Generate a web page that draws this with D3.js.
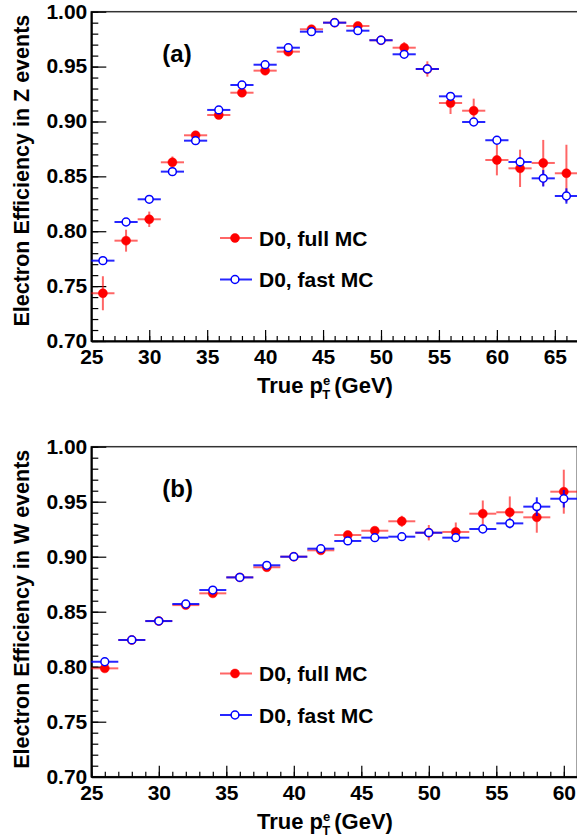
<!DOCTYPE html>
<html>
<head>
<meta charset="utf-8">
<script src="https://cdn.jsdelivr.net/npm/d3@7"></script>
<style>
  body { margin: 0; background: #fff; }
  text { font-family: "Liberation Sans", Arial, sans-serif; font-weight: bold; }
</style>
</head>
<body>
<script>
// Z events (a)
const zPt = [26, 28, 30, 32, 34, 36, 38, 40, 42, 44, 46, 48, 50, 52, 54, 56, 58, 60, 62, 64, 66];
const zFull = [0.7435, 0.7914, 0.8109, 0.8628, 0.8874, 0.9059, 0.9262, 0.9463, 0.9636, 0.984, 0.990,
               0.987, 0.974, 0.9672, 0.9478, 0.9168, 0.9098, 0.8649, 0.8573, 0.8622, 0.8528];
const zFullErr = [0.0155, 0.010, 0.007, 0.0053, 0.003, 0.002, 0.002, 0.002, 0.002, 0.002, 0.002,
                  0.003, 0.003, 0.005, 0.007, 0.010, 0.011, 0.014, 0.017, 0.021, 0.026];
const zFast = [0.7732, 0.8084, 0.8291, 0.8543, 0.8825, 0.9105, 0.9332, 0.9517, 0.9672, 0.9818, 0.990,
               0.9827, 0.974, 0.9612, 0.9478, 0.9229, 0.8995, 0.8829, 0.8631, 0.8482, 0.8321];
const zFastErr = [0.002, 0.002, 0.002, 0.002, 0.002, 0.002, 0.002, 0.002, 0.002, 0.002, 0.002,
                  0.002, 0.002, 0.002, 0.002, 0.003, 0.003, 0.003, 0.0045, 0.0075, 0.007];

// W events (b)
const wPt = [26, 28, 30, 32, 34, 36, 38, 40, 42, 44, 46, 48, 50, 52, 54, 56, 58, 60];
const wFull = [0.7985, 0.8243, 0.8415, 0.856, 0.8667, 0.8812, 0.8904, 0.900, 0.9058, 0.9197, 0.9236,
               0.9322, 0.9218, 0.9225, 0.9391, 0.9404, 0.9358, 0.9591];
const wFullErr = [0.002, 0.002, 0.002, 0.002, 0.002, 0.002, 0.002, 0.002, 0.002, 0.002, 0.003,
                  0.005, 0.007, 0.0086, 0.012, 0.0144, 0.014, 0.020];
const wFast = [0.8045, 0.8243, 0.8415, 0.857, 0.8697, 0.8812, 0.8922, 0.900, 0.9073, 0.9143, 0.9173,
               0.9182, 0.9218, 0.9173, 0.9252, 0.9303, 0.9455, 0.9527];
const wFastErr = [0.002, 0.002, 0.002, 0.002, 0.002, 0.002, 0.002, 0.002, 0.002, 0.002, 0.002,
                  0.002, 0.002, 0.002, 0.003, 0.0045, 0.0085, 0.008];

const yTicks = [0.70, 0.75, 0.80, 0.85, 0.90, 0.95, 1.00];
const legendLabels = ["D0, full MC", "D0, fast MC"];

const width = 577;
const height = 837;
const redBar = "rgba(255,0,0,0.6)";
const blueBar = "rgba(0,0,255,0.85)";

let svg = d3.select("body")
    .append("svg")
    .attr("width", width)
    .attr("height", height);

// one marker, filled red or open blue
function marker(sel, filled) {
    return sel.attr("r", filled ? 4.5 : 3.9)
        .attr("fill", filled ? "#f00" : "#fff")
        .attr("stroke", filled ? "#f00" : "#00f")
        .attr("stroke-width", filled ? 0.5 : 1.5);
}

function drawPanel(opt) {
    let scaleX = d3.scaleLinear().domain(opt.xDomain).range([opt.left, opt.right]);
    let scaleY = d3.scaleLinear().domain([0.70, 1.00]).range([opt.bottom, opt.top]);
    let g = svg.append("g");

    // frame
    g.append("rect")
        .attr("x", opt.left).attr("y", opt.top)
        .attr("width", opt.right - opt.left).attr("height", opt.bottom - opt.top)
        .attr("fill", "none").attr("stroke", "#333").attr("stroke-width", 1.5);

    // minor ticks
    g.append("g")
        .attr("transform", `translate(0, ${opt.bottom})`)
        .call(d3.axisBottom(scaleX).tickValues(d3.range(opt.xDomain[0], opt.xDomain[1] + 0.5, 1))
            .tickSizeInner(-5).tickSizeOuter(0).tickFormat(""))
        .call(a => a.select(".domain").remove());
    g.append("g")
        .attr("transform", `translate(${opt.left}, 0)`)
        .call(d3.axisLeft(scaleY).tickValues(d3.range(0.70, 1.001, 0.01))
            .tickSizeInner(-7).tickSizeOuter(0).tickFormat(""))
        .call(a => a.select(".domain").remove());

    // major ticks + labels
    let axX = g.append("g")
        .attr("transform", `translate(0, ${opt.bottom})`)
        .call(d3.axisBottom(scaleX).tickValues(opt.xTicks)
            .tickSizeInner(-11).tickSizeOuter(0).tickPadding(8).tickFormat(d3.format("d")));
    let axY = g.append("g")
        .attr("transform", `translate(${opt.left}, 0)`)
        .call(d3.axisLeft(scaleY).tickValues(yTicks)
            .tickSizeInner(-15).tickSizeOuter(0).tickPadding(4).tickFormat(d3.format(".2f")));
    [axX, axY].forEach(a => {
        a.selectAll("text").attr("font-size", 21).attr("fill", "#000")
            .attr("font-family", "Liberation Sans, Arial, sans-serif").attr("font-weight", "bold");
        a.select(".domain").attr("stroke-width", 2);
    });
    axY.selectAll("text").attr("dy", "0.3em");
    g.selectAll(".tick line").attr("stroke", "#000").attr("stroke-width", 1.2);

    // axis titles
    let xt = g.append("text")
        .attr("x", 325)
        .attr("y", opt.bottom + 52)
        .attr("text-anchor", "middle")
        .attr("font-size", 22);
    xt.append("tspan").text("True p");
    xt.append("tspan").attr("font-size", 13).attr("dy", -8).text("e");
    xt.append("tspan").attr("font-size", 13).attr("dx", -8).attr("dy", 14).text("T");
    xt.append("tspan").attr("dy", -6).attr("dx", 4).text("(GeV)");

    g.append("text")
        .attr("transform", `translate(28.5, ${opt.top + 3}) rotate(-90)`)
        .attr("text-anchor", "end")
        .attr("font-size", 21.5)
        .text(opt.yTitle);

    g.append("text")
        .attr("x", opt.left + 71).attr("y", opt.top + 50)
        .attr("font-size", 24)
        .text(opt.tag);

    // error bars + markers
    function series(pts, vals, errs, color, filled) {
        let s = g.append("g");
        let data = pts.map((x, i) => ({ x: x, v: vals[i], e: errs[i] }));
        s.selectAll("line.h").data(data).enter().append("line")
            .attr("x1", d => scaleX(d.x - 1)).attr("x2", d => scaleX(d.x + 1))
            .attr("y1", d => scaleY(d.v)).attr("y2", d => scaleY(d.v))
            .attr("stroke", color).attr("stroke-width", 2);
        s.selectAll("line.v").data(data).enter().append("line")
            .attr("x1", d => scaleX(d.x)).attr("x2", d => scaleX(d.x))
            .attr("y1", d => scaleY(d.v - d.e)).attr("y2", d => scaleY(d.v + d.e))
            .attr("stroke", color).attr("stroke-width", 2);
        s.selectAll("circle").data(data).enter().append("circle")
            .attr("cx", d => scaleX(d.x)).attr("cy", d => scaleY(d.v))
            .call(marker, filled);
    }
    series(opt.pts, opt.full, opt.fullErr, redBar, true);
    series(opt.pts, opt.fast, opt.fastErr, blueBar, false);

    // legend
    [[redBar, true], [blueBar, false]].forEach((c, i) => {
        let ly = opt.legendY + i * 41.5;
        g.append("line").attr("x1", 220).attr("x2", 252).attr("y1", ly).attr("y2", ly)
            .attr("stroke", c[0]).attr("stroke-width", 2);
        g.append("circle").attr("cx", 235).attr("cy", ly).call(marker, c[1]);
        g.append("text").attr("x", 259).attr("y", ly).attr("dy", "0.36em")
            .attr("font-size", 21).text(legendLabels[i]);
    });
}

drawPanel({
    left: 91.3, right: 578, top: 11.7, bottom: 341,
    xDomain: [25, 67], xTicks: [25, 30, 35, 40, 45, 50, 55, 60, 65],
    yTitle: "Electron Efficiency in Z events", tag: "(a)", legendY: 238,
    pts: zPt, full: zFull, fullErr: zFullErr, fast: zFast, fastErr: zFastErr
});
drawPanel({
    left: 91.3, right: 577.3, top: 446.7, bottom: 776.7,
    xDomain: [25, 61], xTicks: [25, 30, 35, 40, 45, 50, 55, 60],
    yTitle: "Electron Efficiency in W events", tag: "(b)", legendY: 673.5,
    pts: wPt, full: wFull, fullErr: wFullErr, fast: wFast, fastErr: wFastErr
});
</script>
</body>
</html>
